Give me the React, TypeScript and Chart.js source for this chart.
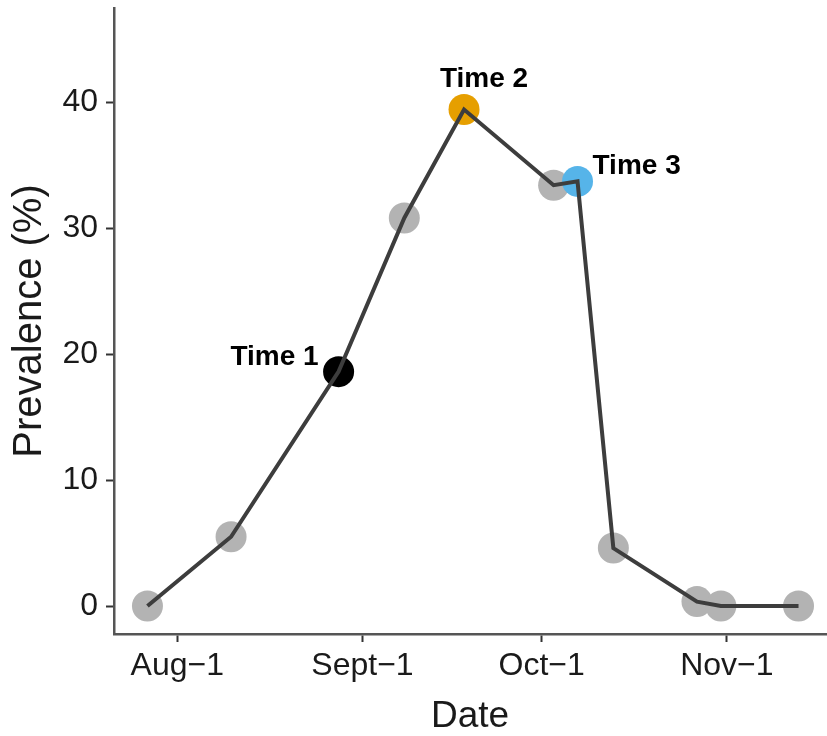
import React, { useEffect, useRef } from "react";
import { Chart, registerables } from "chart.js";

Chart.register(...registerables);

// Days counted from Aug 1
const dayOffsets = [-5, 9, 27, 38, 48, 63, 67, 73, 87, 91, 104];
const prevalence = [0, 5.5, 18.6, 30.8, 39.4, 33.4, 33.7, 4.6, 0.35, 0, 0];
const timeIndices = [2, 4, 6];
const timeLabels = ["Time 1", "Time 2", "Time 3"];
const timeColors = ["#000000", "#E69F00", "#56B4E9"];
const xTickValues = [0, 31, 61, 92];
const xTickLabels = ["Aug\u22121", "Sept\u22121", "Oct\u22121", "Nov\u22121"];
const yTickValues = [0, 10, 20, 30, 40];

const FONT = '"Liberation Sans", Arial, Helvetica, sans-serif';

const labelPlacement = [
  { align: "right", dx: -20, dy: -7 },
  { align: "center", dx: 20, dy: -23 },
  { align: "left", dx: 15, dy: -7 },
];

const timeLabelPlugin = {
  id: "timeLabels",
  afterDatasetsDraw(chart: any) {
    const { ctx, scales } = chart;
    const x = scales.x;
    const y = scales.y;
    ctx.save();
    ctx.font = `bold 28px ${FONT}`;
    ctx.fillStyle = "#000";
    ctx.textBaseline = "alphabetic";
    timeIndices.forEach((idx, i) => {
      const px = x.getPixelForValue(dayOffsets[idx]);
      const py = y.getPixelForValue(prevalence[idx]);
      const s = labelPlacement[i];
      ctx.textAlign = s.align;
      ctx.fillText(timeLabels[i], px + s.dx, py + s.dy);
    });
    ctx.restore();
  },
};

const zeroPadding = (s: any) => {
  s.paddingTop = 0;
  s.paddingBottom = 0;
  s.paddingLeft = 0;
  s.paddingRight = 0;
};

export default function App() {
  const ref = useRef<HTMLCanvasElement | null>(null);

  useEffect(() => {
    document.body.style.margin = "0";
    const canvas = ref.current;
    if (!canvas) return;

    const allPoints = dayOffsets.map((d, i) => ({ x: d, y: prevalence[i] }));
    const grayPoints = allPoints.filter((_, i) => !timeIndices.includes(i));
    const timePoints = timeIndices.map((i) => allPoints[i]);

    const chart = new Chart(canvas, {
      type: "scatter",
      data: {
        datasets: [
          {
            type: "line",
            data: allPoints,
            borderColor: "#3d3d3d",
            borderWidth: 4,
            pointRadius: 0,
            tension: 0,
            fill: false,
            order: 0,
          } as any,
          {
            data: timePoints,
            backgroundColor: timeColors,
            borderWidth: 0,
            pointRadius: 15.5,
            showLine: false,
            order: 1,
          },
          {
            data: grayPoints,
            backgroundColor: "#b3b3b3",
            borderWidth: 0,
            pointRadius: 15.5,
            showLine: false,
            order: 2,
          },
        ],
      },
      options: {
        responsive: false,
        animation: false,
        events: [],
        layout: { autoPadding: false, padding: { top: 8, right: 1, left: 0, bottom: 0 } },
        plugins: {
          legend: { display: false },
          tooltip: { enabled: false },
        },
        scales: {
          x: {
            type: "linear",
            min: -10.6,
            max: 108.6,
            afterBuildTicks: (s: any) => {
              s.ticks = xTickValues.map((v) => ({ value: v }));
            },
            afterFit: (s: any) => {
              s.height = 102;
              zeroPadding(s);
            },
            ticks: {
              callback: (v: any) => {
                const i = xTickValues.indexOf(Number(v));
                return i >= 0 ? xTickLabels[i] : "";
              },
              font: { family: FONT, size: 32 },
              color: "#1a1a1a",
              padding: 5,
              maxRotation: 0,
              autoSkip: false,
            },
            grid: {
              drawOnChartArea: false,
              drawTicks: true,
              tickLength: 8,
              tickWidth: 2,
              tickColor: "#333333",
            },
            border: { display: true, color: "#555555", width: 2.5 },
            title: {
              display: true,
              text: "Date",
              font: { family: FONT, size: 37, lineHeight: 1 },
              color: "#1a1a1a",
              padding: { top: 0, bottom: 1 },
            },
          },
          y: {
            type: "linear",
            min: -2.22,
            max: 47.46,
            afterBuildTicks: (s: any) => {
              s.ticks = yTickValues.map((v) => ({ value: v }));
            },
            afterFit: (s: any) => {
              s.width = 114;
              zeroPadding(s);
            },
            ticks: {
              font: { family: FONT, size: 32 },
              color: "#1a1a1a",
              padding: 8,
            },
            grid: {
              drawOnChartArea: false,
              drawTicks: true,
              tickLength: 8,
              tickWidth: 2,
              tickColor: "#333333",
            },
            border: { display: true, color: "#555555", width: 2.5 },
            title: {
              display: true,
              text: "Prevalence (%)",
              font: { family: FONT, size: 40, lineHeight: 1 },
              color: "#1a1a1a",
              padding: { top: 10, bottom: 0 },
            },
          },
        },
      },
      plugins: [timeLabelPlugin],
    });

    return () => chart.destroy();
  }, []);

  return (
    <div style={{ width: 827, height: 736 }}>
      <canvas ref={ref} width={827} height={736} />
    </div>
  );
}
